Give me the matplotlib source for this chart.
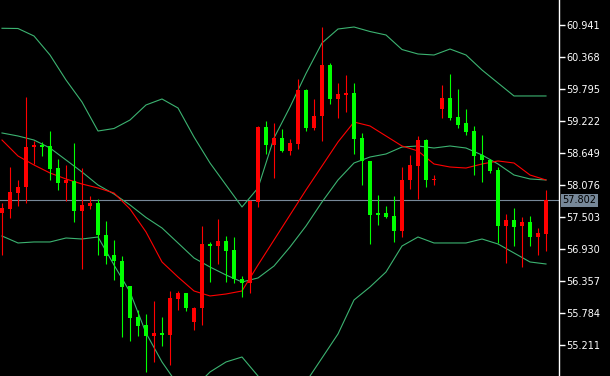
"""
Candlestick chart with Bollinger bands and a moving average,
drawn in the dark trading-terminal style
"""

import numpy as np
import matplotlib
matplotlib.use('Agg')
import matplotlib.pyplot as plt
import matplotlib.transforms as mtransforms

# OHLC per bar
opens = [57.58, 57.65, 57.94, 58.04, 58.75, 58.79, 58.78, 58.38, 58.12, 58.15,
         57.62, 57.71, 57.76, 57.18, 56.83, 56.72, 56.27, 55.72, 55.57, 55.38,
         55.43, 55.40, 56.04, 56.15, 55.63, 55.87, 57.02, 56.98, 57.08, 56.92,
         56.39, 56.32, 57.78, 59.12, 58.80, 58.92, 58.69, 58.82, 59.78, 59.10,
         59.32, 60.23, 59.62, 59.69, 59.73, 58.92, 58.51, 57.57, 57.57, 57.53,
         57.26, 58.16, 58.42, 58.89, 58.16, 59.43, 59.64, 59.30, 59.18, 59.05,
         58.61, 58.52, 58.35, 57.35, 57.45, 57.35, 57.42, 57.15, 57.21]
highs = [57.76, 58.40, 58.17, 59.65, 58.87, 58.84, 59.04, 58.54, 58.44, 58.83,
         58.38, 57.88, 57.83, 57.43, 57.09, 56.81, 56.28, 55.84, 55.77, 56.01,
         55.72, 56.18, 56.18, 56.15, 55.90, 57.35, 57.05, 57.47, 57.17, 57.15,
         56.45, 57.81, 59.13, 59.22, 59.19, 59.08, 58.90, 59.97, 59.80, 59.62,
         60.91, 60.26, 59.90, 60.05, 59.90, 59.01, 58.51, 57.90, 57.71, 57.89,
         58.40, 58.62, 58.96, 58.91, 58.26, 59.87, 60.07, 59.80, 59.44, 59.13,
         58.98, 58.54, 58.40, 57.56, 57.67, 57.51, 57.52, 57.31, 57.99]
lows = [56.83, 57.49, 57.71, 57.76, 58.45, 58.59, 58.17, 57.98, 57.80, 57.42,
        56.58, 57.65, 56.83, 56.67, 56.38, 55.36, 55.29, 55.38, 54.74, 54.92,
        55.19, 54.85, 55.84, 55.83, 55.49, 55.58, 56.35, 56.67, 56.35, 56.33,
        56.08, 56.15, 57.69, 58.63, 58.21, 58.66, 58.62, 58.73, 59.05, 59.07,
        58.87, 59.52, 59.28, 59.38, 58.64, 58.07, 57.02, 57.37, 57.49, 57.05,
        57.14, 58.01, 57.82, 58.05, 58.07, 59.28, 59.25, 59.10, 58.98, 58.26,
        58.14, 58.29, 57.04, 56.69, 56.99, 56.62, 56.99, 56.83, 56.90]
closes = [57.67, 57.95, 58.04, 58.76, 58.79, 58.76, 58.37, 58.12, 58.16, 57.62,
          57.72, 57.76, 57.18, 56.81, 56.71, 56.26, 55.70, 55.56, 55.38, 55.43,
          55.40, 56.06, 56.15, 55.88, 55.88, 57.02, 56.98, 57.08, 56.90, 56.39,
          56.33, 57.80, 59.12, 58.80, 58.92, 58.69, 58.83, 59.78, 59.10, 59.31,
          60.23, 59.62, 59.71, 59.73, 58.91, 58.50, 57.55, 57.54, 57.51, 57.26,
          58.17, 58.44, 58.89, 58.17, 58.19, 59.64, 59.28, 59.16, 59.03, 58.60,
          58.53, 58.33, 57.35, 57.45, 57.33, 57.42, 57.15, 57.22, 57.802]

# indicator values read at every second bar
line_bars = list(range(0, 69, 2))
bb_upper = [60.882, 60.878, 60.744, 60.404, 59.957, 59.563, 59.044, 59.089, 59.241,
            59.510, 59.617, 59.456, 58.937, 58.472, 58.078, 57.685, 58.025, 58.919,
            59.474, 60.073, 60.619, 60.869, 60.905, 60.824, 60.762, 60.502, 60.422,
            60.404, 60.511, 60.404, 60.136, 59.903, 59.671, 59.671, 59.671]
bb_middle = [59.009, 58.955, 58.883, 58.740, 58.526, 58.311, 58.078, 57.917, 57.721,
             57.497, 57.309, 57.041, 56.772, 56.611, 56.468, 56.343, 56.415, 56.629,
             56.969, 57.345, 57.774, 58.168, 58.472, 58.579, 58.633, 58.758, 58.776,
             58.740, 58.776, 58.740, 58.615, 58.454, 58.257, 58.186, 58.168]
bb_lower = [57.166, 57.041, 57.059, 57.059, 57.130, 57.112, 57.148, 56.647, 56.164,
            55.431, 54.912, 54.500, 54.447, 54.733, 54.912, 55.001, 54.661, 54.321,
            54.232, 54.554, 54.983, 55.413, 56.021, 56.254, 56.522, 56.987, 57.148,
            57.041, 57.041, 57.041, 57.112, 57.023, 56.862, 56.701, 56.665]
ma_red = [58.883, 58.597, 58.436, 58.293, 58.186, 58.096, 58.025, 57.935, 57.649,
          57.238, 56.701, 56.432, 56.182, 56.093, 56.128, 56.182, 56.647, 57.094,
          57.542, 57.989, 58.418, 58.848, 59.205, 59.134, 58.955, 58.776, 58.687,
          58.454, 58.400, 58.382, 58.454, 58.508, 58.472, 58.257, 58.168]

price_ticks = [60.941, 60.368, 59.795, 59.222, 58.649, 58.076,
               57.503, 56.930, 56.357, 55.784, 55.211]

BULL = '#ff0000'
BEAR = '#00ff00'
BAND = '#3cb371'
BID = '#778899'


def plot():
    o = np.array(opens)
    c = np.array(closes)
    idx = np.arange(len(o))
    cols = np.where(c >= o, BULL, BEAR)

    fig = plt.figure(figsize=(6.10, 3.76), dpi=100, facecolor='black')
    ax = fig.add_axes([0, 0, 559 / 610, 1])
    ax.set_facecolor('black')

    ax.vlines(idx, lows, highs, colors=cols, linewidth=0.8, zorder=3)
    bottoms = np.minimum(o, c)
    heights = np.maximum(np.abs(c - o), 0.03)
    ax.bar(idx, heights, bottom=bottoms, width=0.62, color=cols,
           linewidth=0, zorder=4)

    ax.plot(line_bars, bb_upper, color=BAND, lw=0.8, zorder=2)
    ax.plot(line_bars, bb_middle, color=BAND, lw=0.8, zorder=2)
    ax.plot(line_bars, bb_lower, color=BAND, lw=0.8, zorder=2)
    ax.plot(line_bars, ma_red, color=BULL, lw=0.8, zorder=2)

    last = closes[-1]
    ax.axhline(last, color=BID, lw=0.8, zorder=1)

    ax.set_xlim(-0.25, 69.625)
    ax.set_ylim(54.661, 61.388)
    ax.set_xticks([])
    ax.yaxis.tick_right()
    ax.set_yticks(price_ticks)
    ax.set_yticklabels(['%.3f' % t for t in price_ticks])
    ax.tick_params(axis='y', colors='white', length=4, width=1,
                   labelsize=7, pad=1)
    for s in ['top', 'bottom', 'left']:
        ax.spines[s].set_visible(False)
    ax.spines['right'].set_color('white')
    ax.spines['right'].set_linewidth(1)

    trans = mtransforms.blended_transform_factory(ax.transAxes, ax.transData)
    ax.text(1.006, last, '%.3f' % last, transform=trans, fontsize=7,
            color='black', ha='left', va='center', clip_on=False, zorder=10,
            bbox=dict(boxstyle='square,pad=0.12', fc=BID, ec='none'))

    fig.savefig('out.png', dpi=100, facecolor='black')


def main():
    plot()


if __name__ == '__main__':
    main()
